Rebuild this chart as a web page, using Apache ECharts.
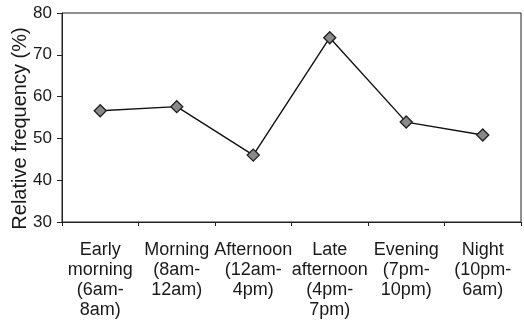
<!DOCTYPE html>
<html>
<head>
<meta charset="utf-8">
<style>
  html, body { margin: 0; padding: 0; background: #fff; }
  #chart { width: 524px; height: 333px; }
</style>
<script src="https://cdn.jsdelivr.net/npm/echarts@6/dist/echarts.min.js"></script>
</head>
<body>
<div id="chart"></div>
<script>
// Time-of-day periods and their relative frequencies (%)
const categories = [
  'Early\nmorning\n(6am-\n8am)',
  'Morning\n(8am-\n12am)',
  'Afternoon\n(12am-\n4pm)',
  'Late\nafternoon\n(4pm-\n7pm)',
  'Evening\n(7pm-\n10pm)',
  'Night\n(10pm-\n6am)'
];
const frequency = [56.6, 57.6, 46.0, 74.1, 53.9, 50.8];
const yTicks = { min: 30, max: 80, step: 10 };

const chart = echarts.init(document.getElementById('chart'), null, { renderer: 'canvas' });
const textColor = '#1a1a1a';
const fontFamily = '"Liberation Sans", Arial, sans-serif';

chart.setOption({
  animation: false,
  backgroundColor: '#fff',
  grid: {
    left: 62, right: 3, top: 13, bottom: 111,
    containLabel: false,
    outerBoundsMode: 'none',
    show: true, borderColor: '#222', borderWidth: 1
  },
  xAxis: {
    type: 'category',
    data: categories,
    boundaryGap: true,
    axisLine: { lineStyle: { color: '#222', width: 1 } },
    axisTick: { show: true, length: 4, alignWithLabel: false, lineStyle: { color: '#222' } },
    axisLabel: {
      interval: 0,
      color: textColor,
      fontFamily: fontFamily,
      fontSize: 18,
      lineHeight: 20,
      margin: 18,
      align: 'center'
    },
    splitLine: { show: false }
  },
  yAxis: {
    type: 'value',
    min: yTicks.min,
    max: yTicks.max,
    interval: yTicks.step,
    name: 'Relative frequency (%)',
    nameLocation: 'middle',
    nameGap: 32,
    nameMoveOverlap: false,
    nameTextStyle: { color: textColor, fontFamily: fontFamily, fontSize: 20, padding: [0, 22, 0, 0] },
    axisLine: { show: true, lineStyle: { color: '#222', width: 1 } },
    axisTick: { show: true, length: 5, lineStyle: { color: '#222' } },
    axisLabel: { color: textColor, fontFamily: fontFamily, fontSize: 17, margin: 10 },
    splitLine: { show: false }
  },
  series: [{
    type: 'line',
    data: frequency,
    symbol: 'diamond',
    symbolSize: 12,
    lineStyle: { color: '#111', width: 1.4 },
    itemStyle: { color: '#8a8a8a', borderColor: '#222', borderWidth: 1.4 }
  }]
});
</script>
</body>
</html>
